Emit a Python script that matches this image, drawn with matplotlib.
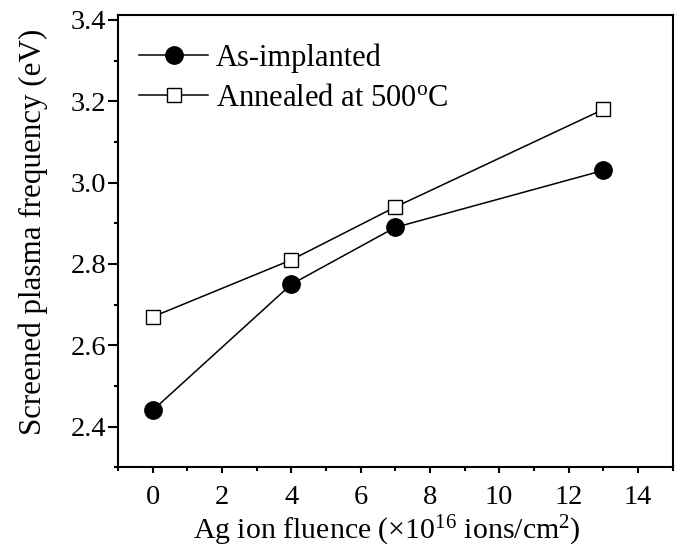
import matplotlib
matplotlib.use("Agg")
import matplotlib.pyplot as plt
from matplotlib.ticker import MultipleLocator, FormatStrFormatter

plt.rcParams['font.family'] = ['Liberation Serif', 'DejaVu Serif']
plt.rcParams['mathtext.fontset'] = 'custom'
plt.rcParams['mathtext.rm'] = 'Liberation Serif'
plt.rcParams['mathtext.it'] = 'Liberation Serif:italic'

fluence = [0, 4, 7, 13]
as_implanted = [2.44, 2.75, 2.89, 3.03]
annealed = [2.67, 2.81, 2.94, 3.18]
labels = ["As-implanted", "Annealed at 500$^\\mathrm{o}$C"]

fig = plt.figure(figsize=(6.8, 5.6), dpi=100)
ax = fig.add_axes([0.1735, 0.1655, 0.8155, 0.8075])

ax.plot(fluence, as_implanted, '-o', color='black', lw=1.1, ms=12.5,
        mfc='black', mec='black', label=labels[0])
ax.plot(fluence, annealed, '-s', color='black', lw=1.1, ms=10.5,
        mfc='white', mec='black', mew=1.0, label=labels[1])

ax.set_xlim(-1, 15)
ax.set_ylim(2.3, 3.412)
ax.xaxis.set_major_locator(MultipleLocator(2))
ax.xaxis.set_minor_locator(MultipleLocator(1))
ax.yaxis.set_major_locator(MultipleLocator(0.2))
ax.yaxis.set_minor_locator(MultipleLocator(0.1))
ax.yaxis.set_major_formatter(FormatStrFormatter('%.1f'))

for s in ax.spines.values():
    s.set_linewidth(1.5)
ax.tick_params(which='both', direction='out', top=False, right=False, width=1.5)
ax.tick_params(which='major', labelsize=20.5)
ax.tick_params(axis='x', which='major', length=4.5, pad=8)
ax.tick_params(axis='y', which='major', length=7, pad=1.5)
ax.tick_params(which='minor', length=3)

ax.set_xlabel("Ag ion fluence (\u00d710$^{16}$ ions/cm$^{2}$)", fontsize=21.5, labelpad=3)
ax.xaxis.label.set_x(0.485)
ax.set_ylabel("Screened plasma frequency (eV)", fontsize=22.3, labelpad=16)
ax.yaxis.label.set_y(0.52)

ax.legend(loc='upper left', frameon=False, fontsize=22, handlelength=2.25,
          handletextpad=0.25, borderaxespad=0.3, labelspacing=0.36,
          bbox_to_anchor=(0.0, 0.985))

fig.savefig("out.png", dpi=100)
